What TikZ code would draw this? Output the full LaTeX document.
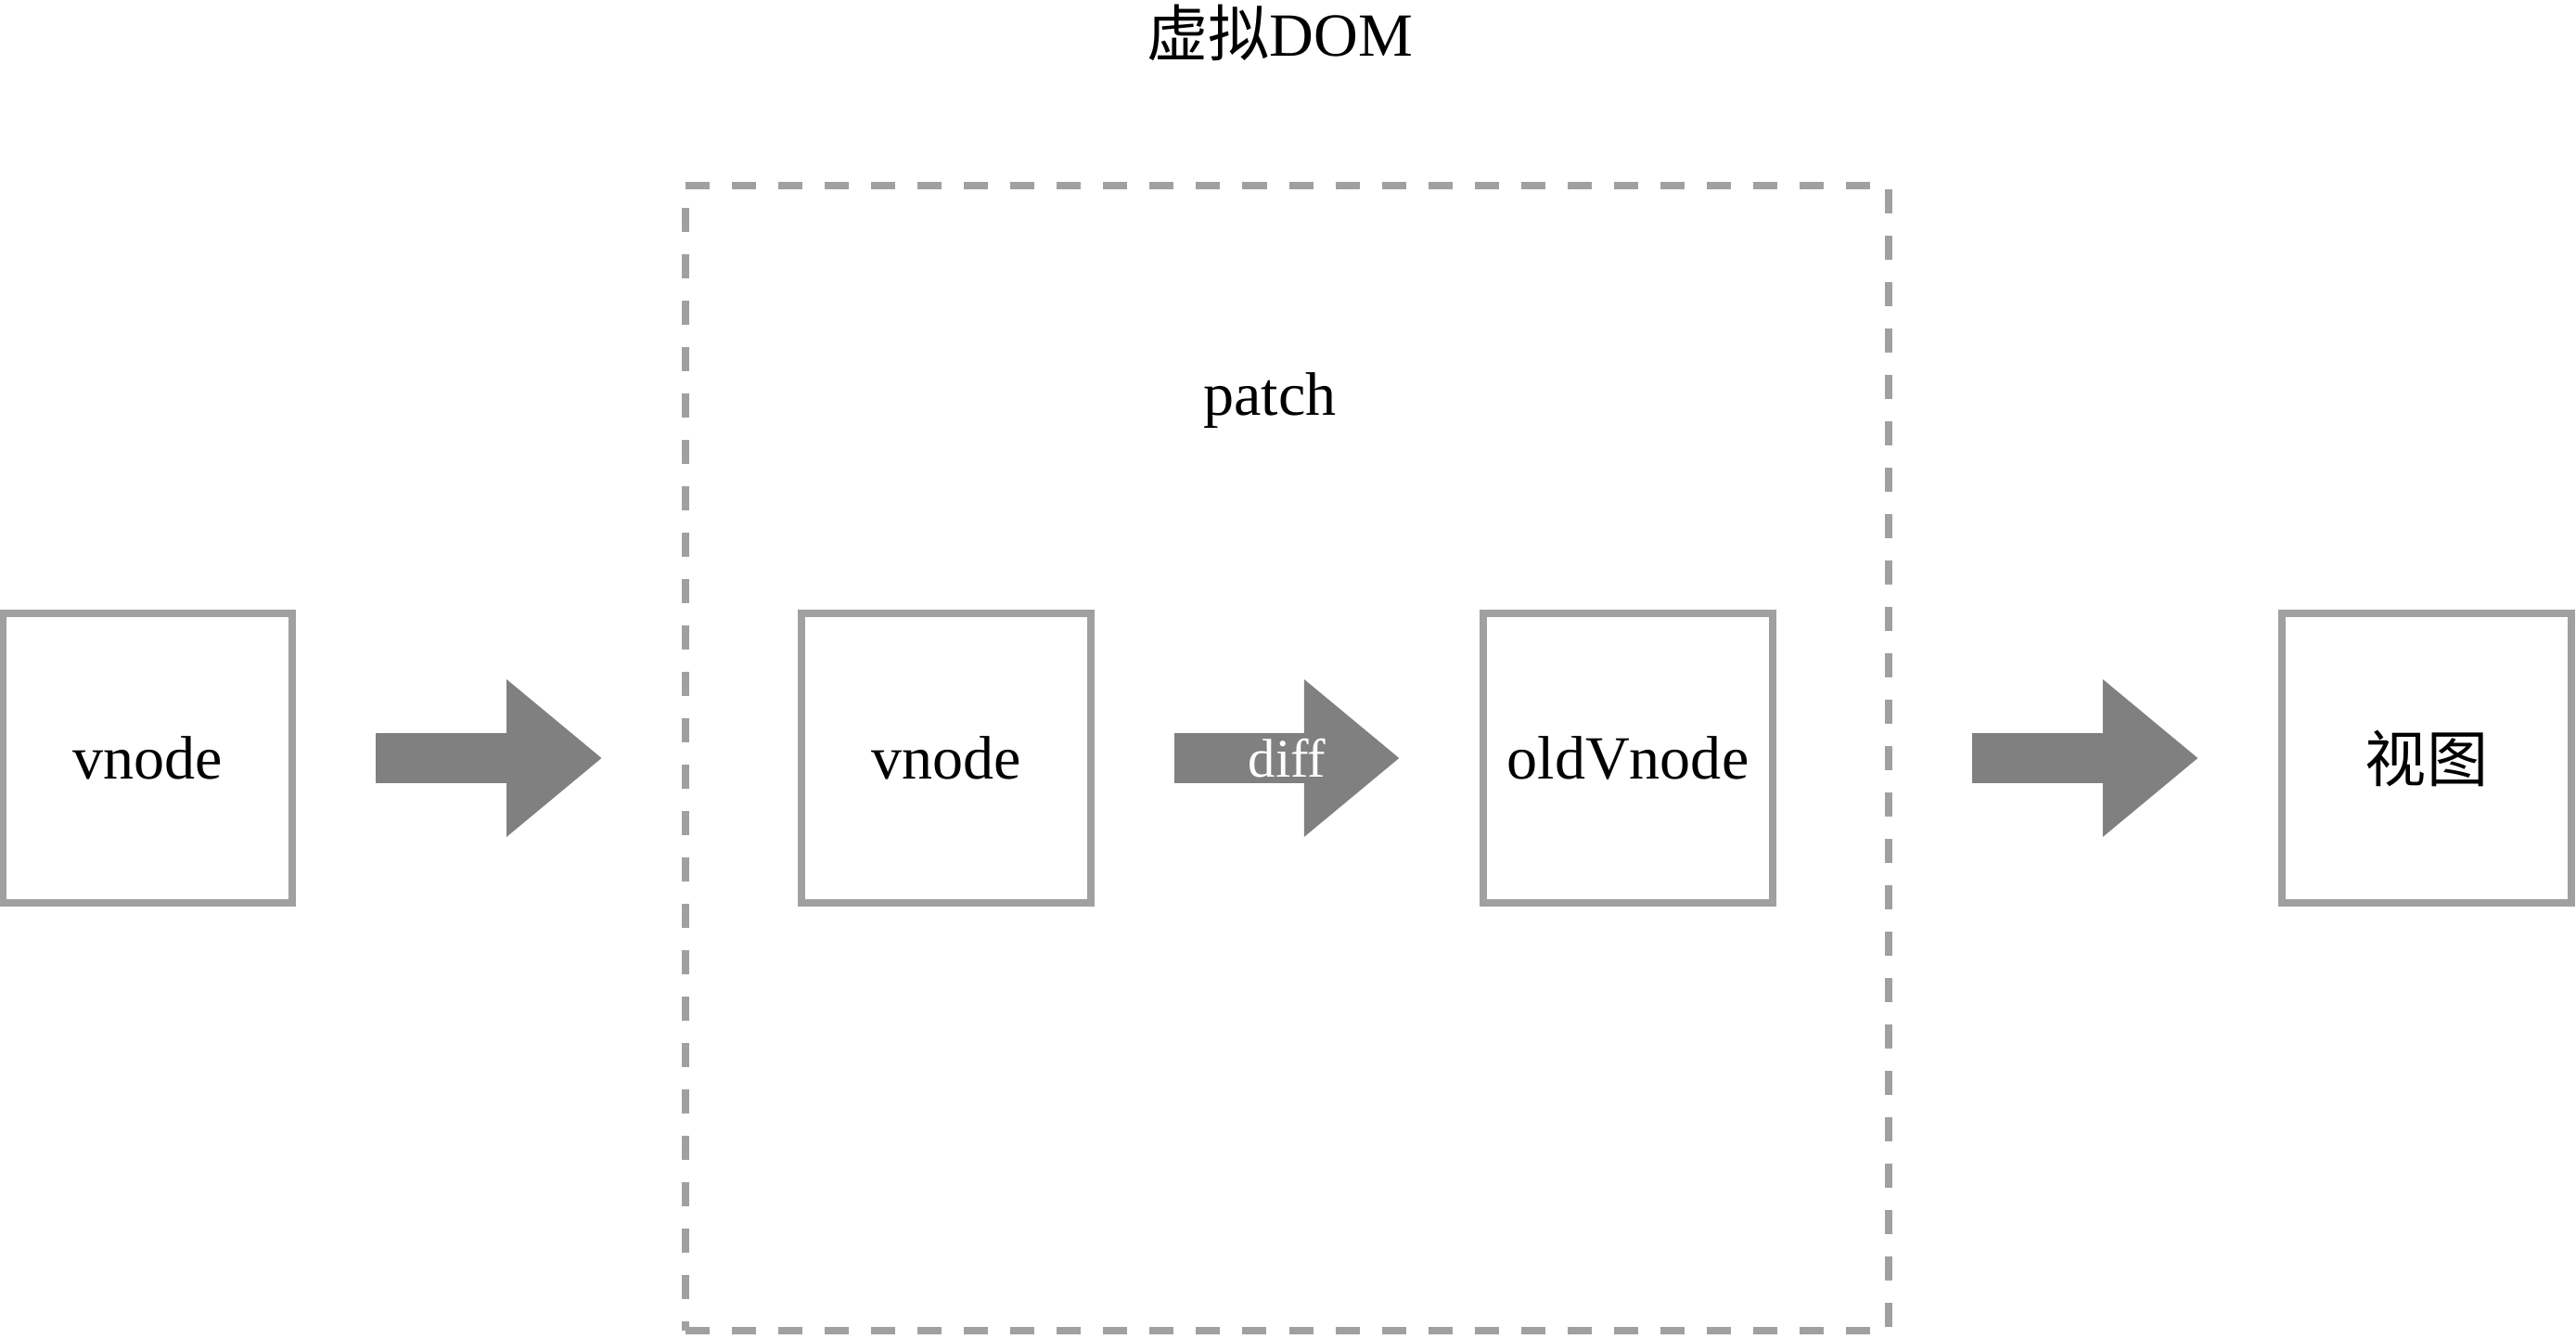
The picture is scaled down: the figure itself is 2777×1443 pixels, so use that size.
\documentclass[tikz,border=0pt]{standalone}
\usepackage{fontspec}
\setmainfont{Liberation Serif}
\newfontfamily\cjk{Noto Sans CJK SC}
\usetikzlibrary{arrows.meta}
\definecolor{boxgray}{RGB}{160,160,160}
\definecolor{arrowgray}{RGB}{128,128,128}

\begin{document}
\begin{tikzpicture}[x=0.01cm,y=-0.01cm,
  box/.style={draw=boxgray,line width=0.08cm,minimum width=3.12cm,minimum height=3.12cm,font=\fontsize{18.8}{22}\selectfont},
  label/.style={font=\fontsize{18.8}{22}\selectfont},
  bigarrow/.style={draw=arrowgray,line width=0.54cm,-{Triangle[length=1.03cm,width=1.63cm]},shorten <=0.86cm,shorten >=0.86cm}]
\useasboundingbox (0,0) rectangle (2777,1443);

%Dashed frame
\node (frame) [draw=boxgray,line width=0.08cm,dash pattern=on 0.26cm off 0.24cm,minimum width=12.96cm,minimum height=12.34cm] at (1387.5,817) {};

%Boxes
\node (vnodeA) [box] at (159,817) {vnode};
\node (vnodeB) [box] at (1020,817) {vnode};
\node (oldV) [box] at (1755,817) {oldVnode};
\node (view) [box] at (2616,817) {\cjk 视图};

% Text Node
\node (title) [label] at (1380,35) {{\cjk 虚拟}DOM};
% Text Node
\node (patch) [label] at (1369,432) {patch};

%Block arrows
\draw [bigarrow] (vnodeA) -- (frame);
\draw [bigarrow] (vnodeB) -- node [text=white,font=\fontsize{16.7}{20}\selectfont] (diff) {diff} (oldV);
\draw [bigarrow] (frame) -- (view);

\end{tikzpicture}
\end{document}
